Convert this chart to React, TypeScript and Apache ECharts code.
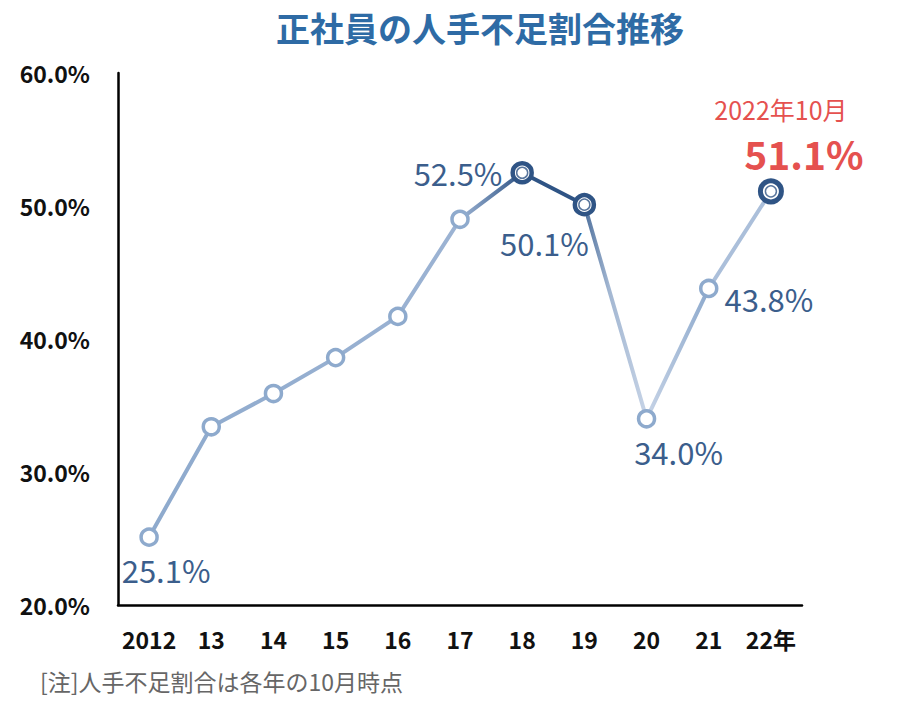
import React, { useEffect, useRef } from 'react';
import * as echarts from 'echarts';

const YEARS = ['2012', '13', '14', '15', '16', '17', '18', '19', '20', '21', '22年'];
const SHORTAGE = [25.1, 33.4, 35.9, 38.6, 41.7, 49.0, 52.5, 50.1, 34.0, 43.8, 51.1];
// years drawn with the dark double ring
const HIGHLIGHT = [6, 7, 10];
const Y_TICKS = [20, 30, 40, 50, 60];
const LATEST_CAPTION = '2022年10月';

const FONT = '"Noto Sans CJK JP", "Noto Sans", sans-serif';
const LABEL_BLUE = '#3b5e8c';
const DARK = '#2f5485';
const MID = '#8eaacd';
const RED = '#e5514f';

// label placement per point (only those shown in the reference)
const LABELS: Record<number, any> = {
  0: { position: 'bottom', offset: [17, 2] },
  6: { position: 'left', distance: 8 },
  7: { position: 'bottom', offset: [-40, 6] },
  8: { position: 'bottom', offset: [32, 2] },
  9: { position: 'right', distance: 6, offset: [0, 10] },
};

export default function App() {
  const ref = useRef<HTMLDivElement>(null);

  useEffect(() => {
    if (!ref.current) return;
    const chart = echarts.init(ref.current, null, { renderer: 'svg' });

    const lineData = SHORTAGE.map((v, i) => {
      const item: any = { value: v };
      if (HIGHLIGHT.includes(i)) {
        item.symbolSize = i === 10 ? 21 : 19;
        item.itemStyle = { color: '#fff', borderColor: DARK, borderWidth: i === 10 ? 5 : 4.5 };
      }
      if (LABELS[i]) {
        item.label = {
          show: true,
          formatter: (p: any) => `${p.value.toFixed(1)}%`,
          fontSize: 31,
          fontFamily: FONT,
          color: LABEL_BLUE,
          ...LABELS[i],
        };
      }
      if (i === 10) {
        item.label = {
          show: true,
          position: 'top',
          distance: 2,
          offset: [18, 0],
          formatter: (p: any) => `{a|${LATEST_CAPTION}}\n{b|${p.value.toFixed(1)}%}`,
          rich: {
            a: { fontSize: 25, fontFamily: FONT, color: RED, align: 'left', lineHeight: 42, padding: [0, 16, 0, 0] },
            b: { fontSize: 39, fontWeight: 'bold', fontFamily: FONT, color: RED, align: 'right', lineHeight: 46 },
          },
        };
      }
      return item;
    });

    chart.setOption({
      animation: false,
      backgroundColor: '#fff',
      title: {
        text: '正社員の人手不足割合推移',
        left: 271,
        top: 5,
        textStyle: { fontSize: 34, fontWeight: 'bold', color: '#2e6ba5', fontFamily: FONT },
      },
      grid: { left: 118, right: 118, top: 73, bottom: 102 },
      xAxis: {
        type: 'category',
        data: YEARS,
        boundaryGap: true,
        axisLine: { lineStyle: { color: '#000', width: 2.5 } },
        axisTick: { show: false },
        axisLabel: {
          interval: 0,
          margin: 22,
          fontSize: 23,
          fontWeight: 'bold',
          color: '#111',
          fontFamily: FONT,
        },
      },
      yAxis: {
        type: 'value',
        min: Y_TICKS[0],
        max: Y_TICKS[Y_TICKS.length - 1],
        interval: Y_TICKS[1] - Y_TICKS[0],
        splitLine: { show: false },
        axisLine: { show: true, lineStyle: { color: '#000', width: 2.5 } },
        axisTick: { show: false },
        axisLabel: {
          margin: 28,
          fontSize: 23,
          fontWeight: 'bold',
          color: '#111',
          fontFamily: FONT,
          formatter: (v: number) => `${v.toFixed(1)}%`,
        },
      },
      series: [
        {
          type: 'line',
          data: lineData,
          symbol: 'circle',
          symbolSize: 16,
          itemStyle: { color: '#fff', borderColor: MID, borderWidth: 3.5 },
          lineStyle: {
            width: 4,
            color: new echarts.graphic.LinearGradient(1, 0, 0, 0, [
              { offset: 0, color: '#abbfda' },
              { offset: 0.1, color: '#abbfda' },
              { offset: 0.1, color: MID },
              { offset: 0.2, color: '#c6d3e6' },
              { offset: 0.26, color: '#a3b7d2' },
              { offset: 0.3, color: '#4d6f9c' },
              { offset: 0.31, color: DARK },
              { offset: 0.4, color: DARK },
              { offset: 0.5, color: '#9cb3d3' },
              { offset: 1, color: MID },
            ]),
          },
          z: 2,
        },
        {
          type: 'scatter',
          data: SHORTAGE.map((v, i) => (HIGHLIGHT.includes(i) ? v : '-')),
          symbol: 'circle',
          symbolSize: 11,
          itemStyle: { color: '#fff', borderColor: DARK, borderWidth: 1.5 },
          silent: true,
          z: 3,
        },
      ],
      graphic: [
        {
          type: 'text',
          left: 40,
          top: 669,
          style: { text: '[注]人手不足割合は各年の10月時点', fontSize: 23, fill: '#666', fontFamily: FONT },
        },
      ],
    });

    return () => chart.dispose();
  }, []);

  return <div ref={ref} style={{ position: 'fixed', left: 0, top: 0, width: 920, height: 707 }} />;
}
